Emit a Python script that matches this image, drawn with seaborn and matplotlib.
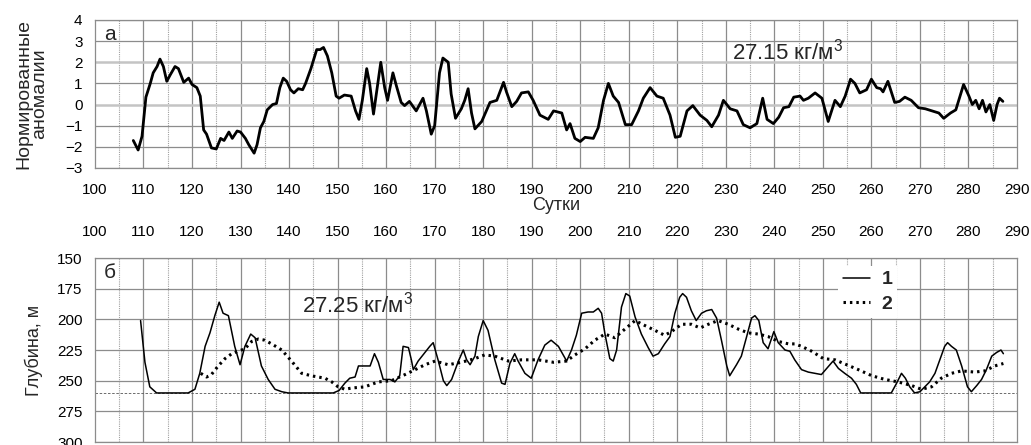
import matplotlib
matplotlib.use("Agg")
import matplotlib.pyplot as plt
from matplotlib.lines import Line2D
import numpy as np
import pandas as pd
import seaborn as sns

# ---- data ----
# panel a: normalised anomalies on 27.15 kg/m3
anom_day = [107.9, 108.9, 109.7, 110.5, 111.4, 112.0, 112.8, 113.4, 114.1, 114.8,
            115.5, 116.5, 117.2, 118.3, 119.3, 120.0, 121.0, 121.7, 122.4, 123.0,
            124.0, 125.0, 125.9, 126.6, 127.6, 128.3, 129.3, 130.0, 131.0, 131.7,
            132.8, 133.4, 134.1, 134.8, 135.5, 136.6, 137.4, 138.1, 138.8, 139.5,
            140.3, 141.0, 141.9, 142.8, 143.4, 144.5, 145.7, 146.4, 147.1, 147.9,
            148.8, 149.7, 150.3, 151.4, 152.8, 153.7, 154.4, 155.1, 156.0, 156.6,
            157.4, 158.1, 158.9, 159.7, 160.3, 161.4, 162.1, 163.1, 163.8, 164.8,
            166.2, 167.6, 168.3, 169.3, 170.0, 171.0, 171.7, 172.8, 173.4, 174.3,
            175.5, 176.2, 176.9, 177.6, 178.3, 179.7, 181.4, 182.8, 184.2, 184.8,
            185.9, 186.9, 187.9, 189.3, 190.3, 191.7, 193.4, 194.5, 196.2, 197.2,
            197.9, 198.9, 200.0, 201.0, 202.7, 203.7, 204.8, 205.8, 206.8, 207.9,
            209.3, 210.6, 212.0, 213.0, 214.4, 215.8, 217.1, 218.5, 219.6, 220.6,
            222.0, 223.2, 224.7, 226.1, 227.1, 228.5, 229.5, 230.9, 232.3, 233.6,
            235.0, 236.4, 237.6, 238.5, 239.8, 240.9, 241.9, 243.0, 244.0, 245.3,
            246.0, 247.0, 248.4, 249.8, 251.1, 252.5, 253.6, 254.6, 255.7, 256.6,
            257.6, 259.0, 260.0, 261.1, 261.9, 262.4, 263.4, 264.8, 265.8, 266.9,
            268.2, 269.7, 271.1, 272.5, 273.9, 274.9, 276.3, 277.4, 278.0, 279.0,
            280.1, 280.8, 281.5, 282.2, 282.9, 283.6, 284.4, 285.2, 285.9, 286.4,
            287.1]
anom_val = [-1.7, -2.15, -1.5, 0.35, 1.0, 1.5, 1.8, 2.15, 1.8, 1.1,
            1.4, 1.8, 1.7, 1.05, 1.25, 0.95, 0.8, 0.4, -1.2, -1.4,
            -2.05, -2.1, -1.6, -1.7, -1.3, -1.6, -1.25, -1.3, -1.6, -1.9,
            -2.3, -1.9, -1.1, -0.8, -0.25, 0.0, 0.05, 0.8, 1.25, 1.1,
            0.7, 0.55, 0.75, 0.7, 1.0, 1.7, 2.6, 2.6, 2.7, 2.3,
            1.5, 0.4, 0.3, 0.45, 0.4, -0.3, -0.7, 0.2, 1.7, 1.0,
            -0.45, 0.7, 2.0, 0.8, 0.2, 1.5, 0.9, 0.1, -0.05, 0.15,
            -0.3, 0.3, -0.3, -1.4, -1.0, 1.5, 2.2, 2.0, 0.5, -0.65,
            -0.2, 0.2, 0.75, -0.4, -1.15, -0.8, 0.1, 0.2, 1.05, 0.6,
            -0.1, 0.15, 0.55, 0.6, 0.2, -0.5, -0.7, -0.3, -0.4, -1.2,
            -0.9, -1.6, -1.75, -1.55, -1.6, -1.1, 0.2, 1.0, 0.4, 0.1,
            -0.95, -0.95, -0.3, 0.3, 0.8, 0.4, 0.3, -0.5, -1.55, -1.5,
            -0.3, -0.05, -0.5, -0.75, -1.05, -0.5, 0.2, -0.2, -0.3, -0.95,
            -1.1, -0.9, 0.3, -0.7, -0.9, -0.6, -0.15, -0.1, 0.35, 0.4,
            0.2, 0.3, 0.55, 0.3, -0.8, 0.2, -0.1, 0.4, 1.2, 1.0,
            0.55, 0.7, 1.2, 0.8, 0.75, 0.6, 1.1, 0.1, 0.15, 0.35,
            0.2, -0.15, -0.2, -0.3, -0.4, -0.65, -0.4, -0.25, 0.2, 0.95,
            0.4, 0.0, 0.2, -0.2, 0.2, -0.35, 0.0, -0.75, 0.0, 0.3,
            0.15]

# panel b, curve 1: depth of 27.25 kg/m3
depth1_day = [109.4, 110.3, 111.3, 112.7, 119.2, 120.6, 121.6, 122.7, 123.7, 124.7,
              125.6, 126.4, 127.5, 128.8, 129.9, 130.9, 132.1, 133.0, 134.3, 135.7,
              137.1, 138.5, 139.8, 149.1, 150.3, 151.5, 152.5, 153.6, 154.3, 155.0,
              156.7, 157.6, 158.4, 159.4, 160.8, 161.8, 162.8, 163.5, 164.6, 165.2,
              165.6, 166.6, 168.0, 169.0, 169.7, 170.7, 171.8, 172.5, 173.5, 174.9,
              175.9, 176.6, 177.3, 178.3, 179.0, 180.0, 181.0, 182.4, 183.8, 184.5,
              185.5, 186.5, 187.2, 188.6, 189.9, 191.3, 192.7, 194.0, 195.5, 197.2,
              198.2, 199.2, 200.3, 201.6, 202.7, 203.7, 204.4, 205.1, 206.1, 206.8,
              207.5, 208.5, 209.4, 210.2, 211.3, 212.6, 214.0, 215.0, 216.1, 217.4,
              218.5, 219.5, 220.5, 221.1, 221.9, 222.9, 223.9, 225.0, 226.0, 227.1,
              228.1, 229.1, 230.2, 230.8, 232.2, 233.2, 234.3, 235.3, 236.0, 236.8,
              237.7, 238.7, 239.9, 240.8, 242.2, 243.2, 244.2, 245.6, 247.0, 248.4,
              249.7, 250.8, 252.1, 253.2, 254.5, 255.9, 256.9, 257.8, 264.1, 265.2,
              266.2, 267.0, 267.9, 268.9, 270.0, 271.0, 272.0, 273.1, 274.1, 275.1,
              275.7, 276.5, 277.5, 278.6, 279.8, 280.6, 281.7, 282.7, 283.7, 284.8,
              285.8, 286.7, 287.2]
depth1 = [201, 235, 255, 260, 260, 257, 244, 222, 211, 197,
          186, 195, 197, 222, 237, 222, 212, 215, 238, 249,
          257, 259, 260, 260, 258, 252, 248, 247, 238, 238,
          238, 228, 235, 249, 249, 251, 246, 222, 223, 233,
          241, 234, 227, 222, 219, 233, 250, 254, 249, 234,
          225, 233, 237, 230, 214, 201, 209, 233, 252, 253,
          236, 228, 234, 244, 248, 233, 221, 217, 222, 234,
          225, 213, 195, 194, 194, 191, 195, 212, 232, 234,
          225, 190, 179, 181, 198, 212, 223, 230, 228, 220,
          214, 195, 182, 179, 182, 193, 201, 195, 193, 192,
          199, 217, 238, 246, 237, 230, 214, 199, 197, 201,
          219, 224, 210, 219, 225, 226, 233, 241, 243, 244,
          245, 240, 234, 240, 244, 248, 253, 260, 260, 252,
          244, 248, 255, 260, 259, 255, 251, 244, 233, 222,
          219, 222, 225, 238, 255, 259, 254, 249, 241, 230,
          227, 225, 228]

# panel b, curve 2 (dotted)
depth2_day = [121.8, 123.0, 124.0, 125.4, 126.8, 128.2, 129.5, 130.9, 132.3, 133.7,
              135.0, 136.4, 138.5, 140.5, 142.6, 144.6, 147.4, 148.8, 150.1, 151.5,
              152.9, 155.6, 158.4, 161.1, 163.9, 166.0, 168.0, 170.1, 172.8, 175.5,
              178.3, 180.3, 182.4, 185.2, 187.9, 191.3, 194.5, 197.2, 198.9, 201.0,
              203.0, 205.1, 207.1, 209.2, 211.3, 213.3, 215.4, 217.4, 218.8, 220.9,
              222.9, 224.7, 226.4, 228.4, 230.5, 232.6, 234.6, 236.7, 238.7, 240.8,
              242.9, 244.2, 245.6, 247.7, 250.1, 252.5, 254.9, 257.3, 260.1, 262.8,
              265.5, 268.3, 270.3, 272.4, 274.4, 276.5, 278.6, 281.3, 283.4, 285.4,
              287.2]
depth2 = [244, 247, 245, 238, 232, 228, 226, 224, 218, 216,
          217, 220, 225, 234, 244, 246, 248, 251, 255, 257,
          256, 255, 251, 250, 245, 241, 237, 234, 237, 235,
          232, 229, 230, 234, 233, 233, 235, 234, 229, 224,
          217, 212, 215, 208, 201, 205, 209, 213, 210, 204,
          204, 207, 204, 201, 204, 208, 211, 212, 214, 218,
          220, 220, 222, 226, 232, 233, 237, 241, 246, 249,
          251, 254, 257, 255, 248, 244, 242, 243, 242, 238,
          236]

anom_df = pd.DataFrame({"day": anom_day, "value": anom_val})
d1_df = pd.DataFrame({"day": depth1_day, "depth": depth1})
d2_df = pd.DataFrame({"day": depth2_day, "depth": depth2})

# ---- style ----
sns.set_theme(style="white")
plt.rcParams["font.family"] = ["Liberation Sans", "DejaVu Sans"]
plt.rcParams["mathtext.fontset"] = "custom"
plt.rcParams["mathtext.rm"] = "Liberation Sans"
plt.rcParams["mathtext.it"] = "Liberation Sans"

GRID_DARK = "#8c8c8c"
GRID_LIGHT = "#c4c4c4"

fig = plt.figure(figsize=(10.31, 4.45), dpi=100)
ax_a = fig.add_axes([0.0921, 0.6225, 0.8943, 0.3326])
ax_b = fig.add_axes([0.0921, 0.0067, 0.8943, 0.4135])


def draw_grid(ax, yticks, light_rows=()):
    for d in range(105, 290, 10):
        ax.axvline(d, color="#a0a0a0", lw=0.8, ls=(0, (1, 1)), zorder=0)
    for d in range(110, 290, 10):
        ax.axvline(d, color=GRID_DARK, lw=0.9, zorder=0)
    for y in yticks:
        if y in light_rows:
            ax.axhline(y, color=GRID_LIGHT, lw=1.8, zorder=0)
        else:
            ax.axhline(y, color=GRID_DARK, lw=0.9, zorder=0)
    for side in ax.spines.values():
        side.set_color(GRID_DARK)
        side.set_linewidth(0.9)
    ax.tick_params(length=0, labelsize=11, colors="black")


# ---- panel a ----
sns.lineplot(data=anom_df, x="day", y="value", ax=ax_a, color="black",
             lw=2.0, sort=False, estimator=None)
ax_a.set_xlim(100, 290)
ax_a.set_ylim(-3, 4)
ax_a.set_xticks(range(100, 291, 10))
ax_a.set_yticks(range(-3, 5))
draw_grid(ax_a, range(-3, 5), light_rows=(0, 2))
ax_a.tick_params(axis="x", pad=11)
ax_a.tick_params(axis="y", pad=9)
ax_a.set_xlabel("Сутки", fontsize=13, labelpad=0)
ax_a.set_ylabel("Нормированные\nаномалии", fontsize=14, labelpad=12, linespacing=0.9)
ax_a.text(0.01, 0.9, "а", transform=ax_a.transAxes, fontsize=15, va="center")
ax_a.text(231.3, 2.5, "27.15 кг/м$^{3}$", fontsize=16, va="center", ha="left")

# ---- panel b ----
sns.lineplot(data=d1_df, x="day", y="depth", ax=ax_b, color="black",
             lw=1.1, sort=False, estimator=None)
sns.lineplot(data=d2_df, x="day", y="depth", ax=ax_b, color="black",
             lw=2.2, ls=(0, (0.8, 1.3)), sort=False, estimator=None)
ax_b.axhline(260, color="#555555", lw=0.6, ls=(0, (3, 2)), zorder=1)
ax_b.set_xlim(100, 290)
ax_b.set_ylim(300, 150)
ax_b.set_xticks(range(100, 291, 10))
ax_b.set_yticks(range(150, 301, 25))
draw_grid(ax_b, range(150, 301, 25))
ax_b.xaxis.tick_top()
ax_b.tick_params(axis="x", pad=14)
ax_b.tick_params(axis="y", pad=9)
ax_b.set_xlabel("")
ax_b.set_ylabel("Глубина, м", fontsize=13, labelpad=10)
ax_b.text(0.01, 0.92, "б", transform=ax_b.transAxes, fontsize=15, va="center")
ax_b.text(142.6, 188, "27.25 кг/м$^{3}$", fontsize=16, va="center", ha="left")

handles = [Line2D([], [], color="black", lw=1.1),
           Line2D([], [], color="black", lw=2.2, ls=(0, (0.8, 1.3)))]
leg = ax_b.legend(handles, ["1", "2"], loc="upper left", bbox_to_anchor=(0.795, 1.01),
                  frameon=True, fancybox=False, framealpha=1, facecolor="white",
                  edgecolor="none", handlelength=1.4, handletextpad=0.6,
                  labelspacing=0.35, borderpad=0.25, prop={"weight": "bold", "size": 14})

fig.savefig("out.png", dpi=100)
